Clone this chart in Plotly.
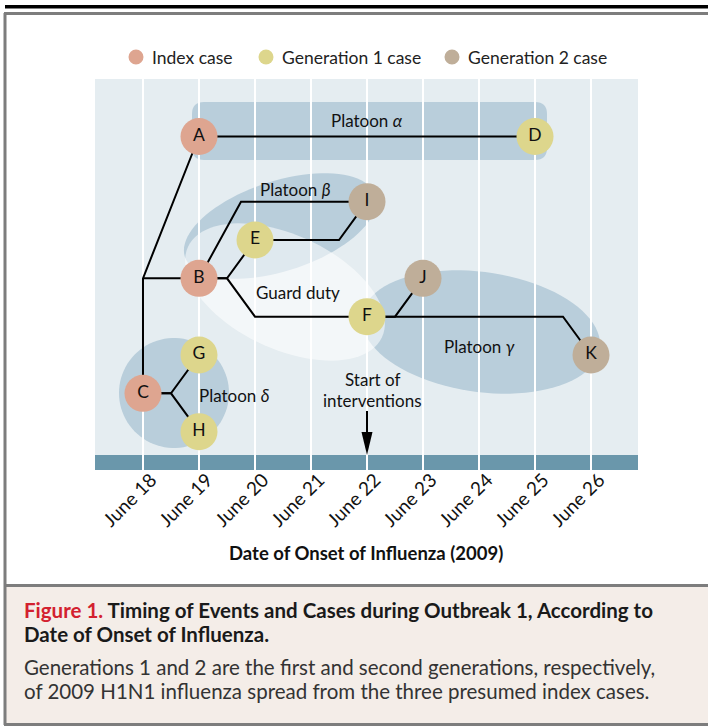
import numpy as np
import plotly.graph_objects as go

# ---------------- data ----------------
case_ids = ["A", "B", "C", "D", "E", "F", "G", "H", "I", "J", "K"]
onset_day = [19, 19, 18, 25, 20, 22, 19, 19, 22, 23, 26]          # day of June 2009
case_row = [-1.7, 2, 5, -1.7, 1, 3, 4, 6, 0, 2, 4]                 # vertical lane
case_gen = ["Index case", "Index case", "Index case", "Generation 1 case",
            "Generation 1 case", "Generation 1 case", "Generation 1 case",
            "Generation 1 case", "Generation 2 case", "Generation 2 case",
            "Generation 2 case"]

gen_names = ["Index case", "Generation 1 case", "Generation 2 case"]
gen_colors = ["#dea590", "#ddd68c", "#bfae99"]

tick_days = [18, 19, 20, 21, 22, 23, 24, 25, 26]
tick_labels = ["June 18", "June 19", "June 20", "June 21", "June 22",
               "June 23", "June 24", "June 25", "June 26"]

# transmission links (day, lane) waypoints
link_x = [[19, 18, 18], [18, 19], [19, 25], [19, 19.75, 22], [19, 19.5, 20],
          [19, 19.5, 20, 22], [20, 21.5, 22], [22, 22.5, 23],
          [22, 22.5, 25.5, 26], [18, 18.5, 19], [18, 18.5, 19]]
link_y = [[-1.7, 2, 5], [2, 2], [-1.7, -1.7], [2, 0, 0], [2, 2, 1],
          [2, 2, 3, 3], [1, 1, 0], [3, 3, 2], [3, 3, 3, 4], [5, 5, 4], [5, 5, 6]]

intervention_day = 22

# ---------------- layout geometry ----------------
W, H = 708, 727
PL, PR, PT, PB = 95, 638, 79, 470      # plot area in px
XR = [17.143, 26.839]
YR = [7.0, -3.2]
FONT = "Lato"

def dx(px):
    return XR[0] + (px - PL) * (XR[1] - XR[0]) / (PR - PL)

def dy(py):
    return YR[1] + (py - PT) * (YR[0] - YR[1]) / (PB - PT)

def ppx(px):
    return px / W

def ppy(py):
    return 1 - py / H

def ellipse_path(cx, cy, a, b, ang_deg, n=90):
    t = np.linspace(0, 2 * np.pi, n, endpoint=False)
    ph = np.radians(ang_deg)
    xs = cx + a * np.cos(t) * np.cos(ph) - b * np.sin(t) * np.sin(ph)
    ys = cy + a * np.cos(t) * np.sin(ph) + b * np.sin(t) * np.cos(ph)
    pts = [f"{dx(x):.4f},{dy(y):.4f}" for x, y in zip(xs, ys)]
    return "M " + " L ".join(pts) + " Z"

def rrect_path(x0, y0, x1, y1, r):
    P = lambda x, y: f"{dx(x):.4f},{dy(y):.4f}"
    return (f"M {P(x0 + r, y0)} L {P(x1 - r, y0)} Q {P(x1, y0)} {P(x1, y0 + r)} "
            f"L {P(x1, y1 - r)} Q {P(x1, y1)} {P(x1 - r, y1)} L {P(x0 + r, y1)} "
            f"Q {P(x0, y1)} {P(x0, y1 - r)} L {P(x0, y0 + r)} Q {P(x0, y0)} {P(x0 + r, y0)} Z")

PLATOON = "#b9cedb"
shapes = []
# bottom band
shapes.append(dict(type="rect", xref="x", yref="y", x0=XR[0], x1=XR[1], y0=dy(455), y1=YR[0],
                   fillcolor="#6a97ab", line=dict(width=0), layer="below"))
# platoons
shapes.append(dict(type="path", xref="x", yref="y", path=rrect_path(192, 102, 547, 160, 12),
                   fillcolor=PLATOON, line=dict(width=0), layer="below"))
shapes.append(dict(type="path", xref="x", yref="y", path=ellipse_path(280, 226, 100, 45, -18),
                   fillcolor=PLATOON, line=dict(width=0), layer="below"))
shapes.append(dict(type="path", xref="x", yref="y", path=ellipse_path(481, 332, 120, 60, 8),
                   fillcolor=PLATOON, line=dict(width=0), layer="below"))
shapes.append(dict(type="path", xref="x", yref="y", path=ellipse_path(174, 393, 55, 55, 0),
                   fillcolor=PLATOON, line=dict(width=0), layer="below"))
# guard duty
shapes.append(dict(type="path", xref="x", yref="y", path=ellipse_path(285, 292, 107, 57, 25),
                   fillcolor="rgba(255,255,255,0.55)", line=dict(width=0), layer="below"))

# arrow for start of interventions
shapes.append(dict(type="line", xref="x", yref="y", x0=intervention_day, x1=intervention_day,
                   y0=dy(411), y1=dy(436), line=dict(color="black", width=2)))
shapes.append(dict(type="path", xref="x", yref="y",
                   path=f"M {intervention_day - 5.5/56:.4f},{dy(432):.4f} L {intervention_day + 5.5/56:.4f},{dy(432):.4f} "
                        f"L {intervention_day:.4f},{dy(455):.4f} Z",
                   fillcolor="black", line=dict(width=0)))

# page frame
shapes.append(dict(type="rect", xref="paper", yref="paper", x0=ppx(5), x1=1, y0=ppy(8.5), y1=ppy(5),
                   fillcolor="black", line=dict(width=0)))
shapes.append(dict(type="rect", xref="paper", yref="paper", x0=ppx(5.5), x1=1.01, y0=ppy(724), y1=ppy(586),
                   fillcolor="#f4ede8", line=dict(width=0), layer="below"))
for (x0, y0, x1, y1) in [(4, 13.5, W + 2, 13.5), (5, 13, 5, 725), (4, 585.5, W + 2, 585.5), (4, 724.5, W + 2, 724.5)]:
    shapes.append(dict(type="line", xref="paper", yref="paper", x0=ppx(x0), x1=ppx(x1),
                       y0=ppy(y0), y1=ppy(y1), line=dict(color="#7d7d7d", width=3)))

# legend
legend_cx = [136, 266, 452]
annotations = []
for cx, name, col in zip(legend_cx, gen_names, gen_colors):
    shapes.append(dict(type="circle", xref="paper", yref="paper", x0=ppx(cx - 7.5), x1=ppx(cx + 7.5),
                       y0=ppy(57 + 7.5), y1=ppy(57 - 7.5), fillcolor=col, line=dict(width=0)))
    annotations.append(dict(xref="paper", yref="paper", x=ppx(cx + 14), y=ppy(57), text=name,
                            showarrow=False, xanchor="left", yanchor="middle",
                            font=dict(family=FONT, size=17.5, color="#222")))

fig = go.Figure()
for lx, ly in zip(link_x, link_y):
    fig.add_trace(go.Scatter(x=lx, y=ly, mode="lines", line=dict(color="black", width=2),
                             hoverinfo="skip", showlegend=False))

for name, col in zip(gen_names, gen_colors):
    idx = [i for i, g in enumerate(case_gen) if g == name]
    fig.add_trace(go.Scatter(x=[onset_day[i] for i in idx], y=[case_row[i] for i in idx],
                             text=[case_ids[i] for i in idx], mode="markers+text",
                             textposition="middle center",
                             marker=dict(size=37, color=col, line=dict(width=0)),
                             textfont=dict(family=FONT, size=17.5, color="#111"),
                             name=name, showlegend=False))

# region labels
labels = [("Platoon <i>α</i>", 22.0, -2.13), ("Platoon <i>β</i>", 20.73, -0.33),
          ("Guard duty", 20.76, 2.36), ("Platoon <i>γ</i>", 24.0, 3.79),
          ("Platoon <i>δ</i>", 19.62, 5.05)]
for t, x, y in labels:
    annotations.append(dict(xref="x", yref="y", x=x, y=y, text=t, showarrow=False,
                            xanchor="center", yanchor="middle",
                            font=dict(family=FONT, size=17, color="#111")))
annotations.append(dict(xref="x", yref="y", x=22.09, y=dy(379), text="Start of", showarrow=False,
                        xanchor="center", yanchor="middle",
                        font=dict(family=FONT, size=17, color="#111")))
annotations.append(dict(xref="x", yref="y", x=22.09, y=dy(400), text="interventions", showarrow=False,
                        xanchor="center", yanchor="middle",
                        font=dict(family=FONT, size=17, color="#111")))

# rotated date tick labels
for d, t in zip(tick_days, tick_labels):
    annotations.append(dict(xref="x", yref="paper", x=d - 14 / 56, y=ppy(499), text=t,
                            showarrow=False, textangle=-45, xanchor="center", yanchor="middle",
                            font=dict(family=FONT, size=19, color="#111")))

# axis title
annotations.append(dict(xref="paper", yref="paper", x=ppx(366), y=ppy(553),
                        text="<b>Date of Onset of Influenza (2009)</b>", showarrow=False,
                        xanchor="center", yanchor="middle",
                        font=dict(family=FONT, size=18.5, color="#111")))

# caption
cap = [("<span style='color:#d3212f'>Figure 1.</span> Timing of Events and Cases during Outbreak 1, According to", 610, True),
       ("Date of Onset of Influenza.", 634, True),
       ("Generations 1 and 2 are the first and second generations, respectively,", 667, False),
       ("of 2009 H1N1 influenza spread from the three presumed index cases.", 691, False)]
for t, y, bold in cap:
    annotations.append(dict(xref="paper", yref="paper", x=ppx(22), y=ppy(y),
                            text=f"<b>{t}</b>" if bold else t, showarrow=False,
                            xanchor="left", yanchor="middle",
                            font=dict(family=FONT, size=20.5, color="#1a1a1a" if bold else "#333")))

fig.update_layout(
    width=W, height=H, margin=dict(l=0, r=0, t=0, b=0),
    paper_bgcolor="white", plot_bgcolor="#e5edf1",
    shapes=shapes, annotations=annotations,
    xaxis=dict(domain=[PL / W, PR / W], range=XR, tickvals=tick_days, ticktext=tick_labels,
               showticklabels=False, showgrid=True, gridcolor="white", gridwidth=2, zeroline=False,
               showline=False, ticks="", fixedrange=True),
    yaxis=dict(domain=[1 - PB / H, 1 - PT / H], range=YR, showgrid=False, zeroline=False,
               showticklabels=False, ticks="", fixedrange=True),
    showlegend=False,
)

fig.write_html("out.html", config={"displayModeBar": False},
               post_script="document.body.style.margin='0';document.body.style.overflow='hidden';")
